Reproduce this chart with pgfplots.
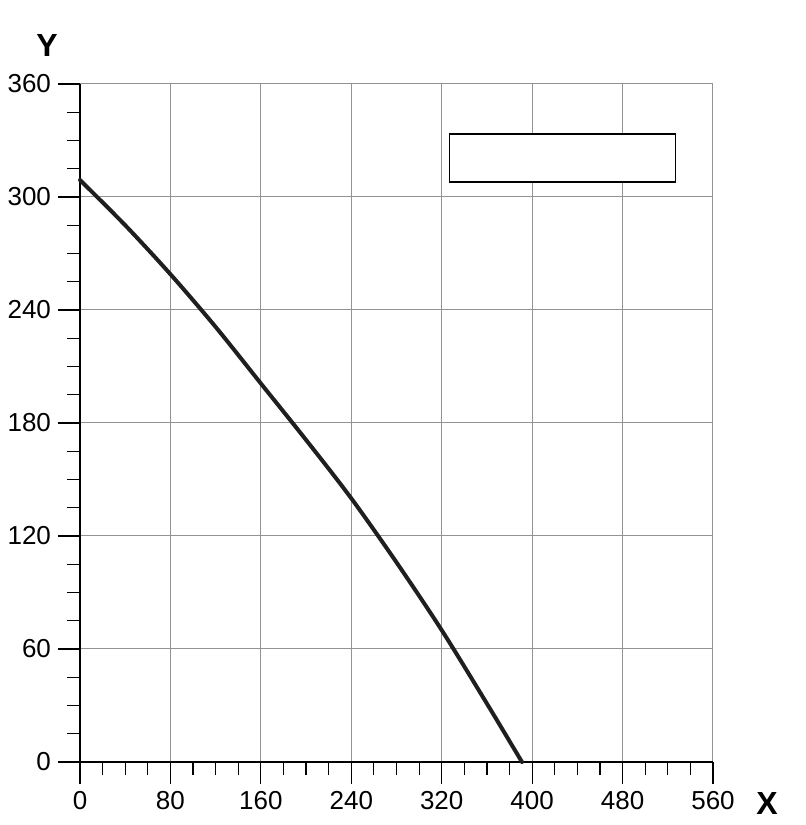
\documentclass[border=0pt]{standalone}
\usepackage{fontspec}
\setmainfont{Liberation Sans}
\usepackage{pgfplots}
\pgfplotsset{compat=1.18}
\begin{document}
\begin{tikzpicture}
\useasboundingbox (-40pt,-31.5pt) rectangle (363pt,381pt);
\begin{axis}[
  scale only axis,
  width=316.5pt, height=339pt,
  xmin=0, xmax=560, ymin=0, ymax=360,
  xtick={0,80,...,560}, ytick={0,60,...,360},
  minor x tick num=3, minor y tick num=3,
  axis lines=left, axis line style={-, black, line width=0.6pt},
  tick align=outside,
  major tick length=11pt, minor tick length=6.5pt,
  tick style={black, line width=0.6pt},
  grid=major,
  major grid style={gray!85, line width=0.5pt},
  font=\fontsize{13}{15}\selectfont,
  /pgf/number format/assume math mode=true,
  every axis x label/.style={at={(axis description cs:1,0)}, anchor=center, xshift=27pt, yshift=-20.5pt},
  every axis y label/.style={at={(axis description cs:0,1)}, anchor=center, xshift=-16.5pt, yshift=19.5pt},
  xlabel={\fontsize{16}{18}\selectfont\bfseries X},
  ylabel={\fontsize{16}{18}\selectfont\bfseries Y},
  clip=false,
]
\addplot[smooth, line width=2pt, color=black!88, line join=round, line cap=round] coordinates {
  (0,309) (40,285) (80,259) (120,231) (160,201) (200,171)
  (240,140) (280,106) (320,70) (360,31) (391,0)
};
\draw[black, line width=0.6pt, fill=white] (axis cs:327,308) rectangle (axis cs:527,333.5);
\end{axis}
\end{tikzpicture}
\end{document}
